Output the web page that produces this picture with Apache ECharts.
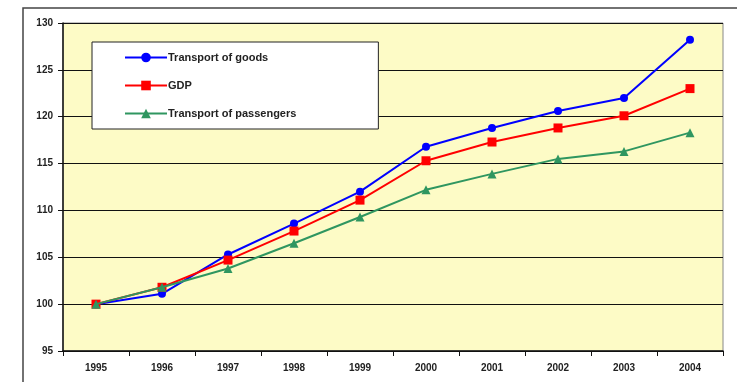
<!DOCTYPE html>
<html>
<head>
<meta charset="utf-8">
<script src="https://cdn.jsdelivr.net/npm/echarts@6/dist/echarts.min.js"></script>
<style>
  html, body { margin: 0; padding: 0; background: #fff; }
  #chart { width: 737px; height: 382px; }
</style>
</head>
<body>
<div id="chart"></div>
<script>
var years = ['1995', '1996', '1997', '1998', '1999', '2000', '2001', '2002', '2003', '2004']
var goods = [100, 101.1, 105.3, 108.6, 112.0, 116.8, 118.8, 120.6, 122.0, 128.2]
var gdp = [100, 101.8, 104.7, 107.8, 111.1, 115.3, 117.3, 118.8, 120.1, 123.0]
var passengers = [100, 101.8, 103.8, 106.5, 109.3, 112.2, 113.9, 115.5, 116.3, 118.3]

var chart = echarts.init(document.getElementById('chart'))
var labelFont = { fontFamily: 'Liberation Sans, Arial', fontSize: 10, fontWeight: 'bold', color: '#222' }

chart.setOption({
  animation: false,
  backgroundColor: '#fff',
  graphic: [
    {
      type: 'rect',
      shape: { x: 23, y: 8, width: 740, height: 400 },
      style: { fill: 'none', stroke: '#444', lineWidth: 1.5 },
      z: 0
    }
  ],
  legend: {
    orient: 'vertical',
    left: 92,
    top: 42,
    padding: [10, 82, 10, 32],
    itemWidth: 42,
    itemHeight: 12,
    itemGap: 17,
    backgroundColor: '#fff',
    borderColor: '#222',
    borderWidth: 1,
    textStyle: { fontFamily: 'Liberation Sans, Arial', fontSize: 11, fontWeight: 'bold', color: '#222', padding: [0, 0, 0, -4] },
    data: ['Transport of goods', 'GDP', 'Transport of passengers']
  },
  grid: {
    left: 63,
    top: 23,
    right: 14,
    bottom: 31,
    show: true,
    backgroundColor: '#fdfbc6',
    borderColor: '#888',
    borderWidth: 1
  },
  xAxis: {
    type: 'category',
    data: years,
    boundaryGap: true,
    axisLine: { lineStyle: { color: '#111', width: 1.5 } },
    axisTick: { show: true, length: 5, lineStyle: { color: '#111' } },
    axisLabel: Object.assign({ margin: 12 }, labelFont),
    splitLine: { show: false }
  },
  yAxis: {
    type: 'value',
    min: 95,
    max: 130,
    interval: 5,
    axisLine: { show: true, lineStyle: { color: '#111', width: 1.5 } },
    axisTick: { show: true, length: 5, lineStyle: { color: '#111' } },
    axisLabel: Object.assign({ margin: 10 }, labelFont),
    splitLine: { lineStyle: { color: '#111', width: 1 } }
  },
  series: [
    {
      name: 'Transport of goods',
      type: 'line',
      data: goods,
      symbol: 'circle',
      symbolSize: 8,
      color: '#0000ff',
      lineStyle: { width: 2 },
      z: 3
    },
    {
      name: 'GDP',
      type: 'line',
      data: gdp,
      symbol: 'rect',
      symbolSize: 9,
      color: '#ff0000',
      lineStyle: { width: 2 },
      z: 4
    },
    {
      name: 'Transport of passengers',
      type: 'line',
      data: passengers,
      symbol: 'triangle',
      symbolSize: 9,
      color: '#2f9660',
      lineStyle: { width: 2 },
      z: 5
    }
  ]
})
</script>
</body>
</html>
